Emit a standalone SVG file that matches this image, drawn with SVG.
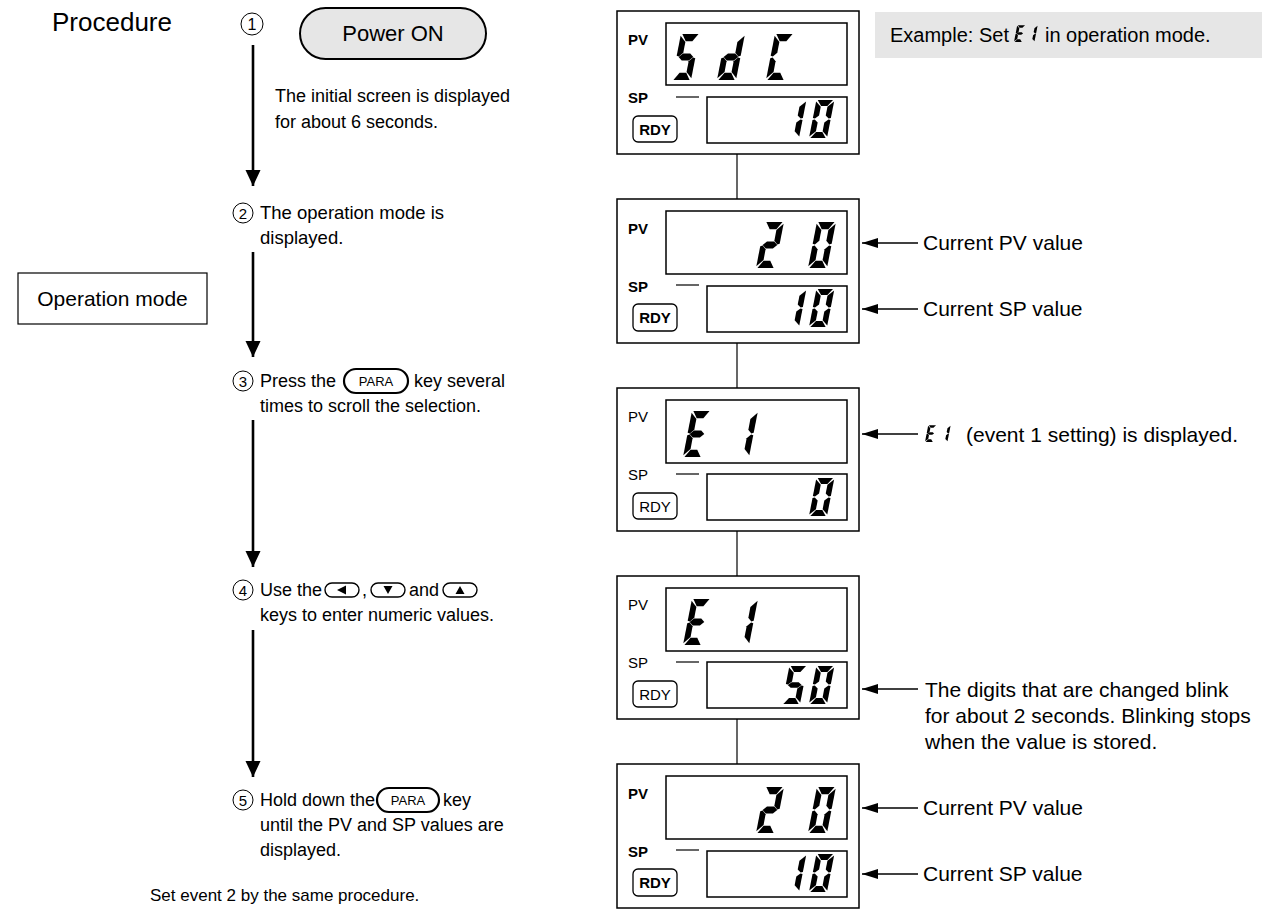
<svg xmlns="http://www.w3.org/2000/svg" xmlns:xlink="http://www.w3.org/1999/xlink" width="1270" height="916" viewBox="0 0 1270 916">
<style>
.t{font-family:"Liberation Sans",Arial,Helvetica,sans-serif;font-size:18px;fill:#000}
.r{font-family:"Liberation Sans",Arial,Helvetica,sans-serif;font-size:21px;fill:#000}
.lb{font-family:"Liberation Sans",Arial,Helvetica,sans-serif;font-size:15px;font-weight:bold;fill:#000}
.ln{font-family:"Liberation Sans",Arial,Helvetica,sans-serif;font-size:15px;fill:#000}
.num{font-family:"Liberation Sans",Arial,Helvetica,sans-serif;font-size:15px;fill:#000;text-anchor:middle}
.frame{fill:#fff;stroke:#000;stroke-width:1.5}
.win{fill:#fff;stroke:#000;stroke-width:1.5}
.rdy{fill:#fff;stroke:#000;stroke-width:1.3}
.conn{stroke:#000;stroke-width:1.2;fill:none}
.flow{stroke:#000;stroke-width:2.6;fill:none}
.ptr{stroke:#000;stroke-width:1.5;fill:none}
.circ{fill:#fff;stroke:#000;stroke-width:1}
.seg{fill:#000}
.key{fill:#fff;stroke:#000;stroke-width:1.4}
.para{fill:#fff;stroke:#000;stroke-width:2.2}
</style>
<defs>
<marker id="down" markerUnits="userSpaceOnUse" markerWidth="16" markerHeight="18" refX="17" refY="8" orient="auto" viewBox="0 0 17 16">
<path d="M0,0 L17,8 L0,16 Z" fill="#000"/>
</marker>
<marker id="left" markerUnits="userSpaceOnUse" markerWidth="16" markerHeight="10" refX="16" refY="5" orient="auto" viewBox="0 0 16 10">
<path d="M0,0 L16,5 L0,10 Z" fill="#000"/>
</marker>
<polygon id="sa" class="seg" points="1.5,0 18.5,0 13.5,6.3 6.5,6.3"/>
<polygon id="sb" class="seg" points="20,1.5 20,19 17.6,19.6 13.7,16.2 13.7,7"/>
<polygon id="sc" class="seg" points="20,21 20,38.5 13.7,33 13.7,23.8 17.6,20.4"/>
<polygon id="sd" class="seg" points="6.5,33.7 13.5,33.7 18.5,40 1.5,40"/>
<polygon id="se" class="seg" points="0,21 2.4,20.4 6.3,23.8 6.3,33 0,38.5"/>
<polygon id="sf" class="seg" points="0,1.5 6.3,7 6.3,16.2 2.4,19.6 0,19"/>
<polygon id="sg" class="seg" points="2.3,20 6.2,17 13.8,17 17.7,20 13.8,23 6.2,23"/>
<g id="g0"><use href="#sa"/><use href="#sb"/><use href="#sc"/><use href="#sd"/><use href="#se"/><use href="#sf"/></g>
<g id="g1"><use href="#sb"/><use href="#sc"/></g>
<g id="g2"><use href="#sa"/><use href="#sb"/><use href="#sg"/><use href="#se"/><use href="#sd"/></g>
<g id="g5"><use href="#sa"/><use href="#sf"/><use href="#sg"/><use href="#sc"/><use href="#sd"/></g>
<g id="gd"><use href="#sb"/><use href="#sc"/><use href="#sd"/><use href="#se"/><use href="#sg"/></g>
<g id="gC"><use href="#sa"/><use href="#sf"/><use href="#se"/><use href="#sd"/></g>
<g id="gE"><use href="#sa"/><use href="#sf"/><use href="#sg"/><use href="#se"/><use href="#sd"/></g>
</defs>

<rect width="1270" height="916" fill="#fff"/>

<g id="connectors">
<line class="flow" x1="253" y1="45" x2="253" y2="186" marker-end="url(#down)"/>
<line class="flow" x1="253" y1="252" x2="253" y2="357" marker-end="url(#down)"/>
<line class="flow" x1="253" y1="420" x2="253" y2="567" marker-end="url(#down)"/>
<line class="flow" x1="253" y1="630" x2="253" y2="777" marker-end="url(#down)"/>
<line class="conn" x1="737" y1="154" x2="737" y2="199"/>
<line class="conn" x1="737" y1="343" x2="737" y2="388"/>
<line class="conn" x1="737" y1="531" x2="737" y2="576"/>
<line class="conn" x1="737" y1="719" x2="737" y2="764"/>
<line class="ptr" x1="918" y1="243" x2="862" y2="243" marker-end="url(#left)"/>
<line class="ptr" x1="918" y1="309" x2="862" y2="309" marker-end="url(#left)"/>
<line class="ptr" x1="918" y1="434" x2="862" y2="434" marker-end="url(#left)"/>
<line class="ptr" x1="918" y1="689" x2="862" y2="689" marker-end="url(#left)"/>
<line class="ptr" x1="918" y1="808" x2="862" y2="808" marker-end="url(#left)"/>
<line class="ptr" x1="918" y1="874" x2="862" y2="874" marker-end="url(#left)"/>
</g>

<g id="title"><text class="t" x="52" y="31" style="font-size:26px">Procedure</text></g>

<g id="step1">
<circle class="circ" cx="252" cy="24" r="11"/>
<text class="num" x="252" y="29.5" style="font-size:16px">1</text>
<rect x="300" y="8" width="186" height="51" rx="25.5" fill="#e6e6e6" stroke="#000" stroke-width="2"/>
<text class="t" x="393" y="41" text-anchor="middle" style="font-size:22px">Power ON</text>
<text class="t" x="275" y="102">The initial screen is displayed</text>
<text class="t" x="275" y="128">for about 6 seconds.</text>
</g>

<g id="step2">
<circle class="circ" cx="243" cy="213" r="10"/>
<text class="num" x="243" y="218.5">2</text>
<text class="t" x="260" y="219" style="font-size:18.5px">The operation mode is</text>
<text class="t" x="260" y="244" style="font-size:18.5px">displayed.</text>
</g>

<g id="opmode">
<rect x="18" y="273" width="189" height="51" fill="#fff" stroke="#000" stroke-width="1.2"/>
<text class="t" x="112.5" y="306" text-anchor="middle" style="font-size:21px">Operation mode</text>
</g>

<g id="step3">
<circle class="circ" cx="243" cy="381" r="10"/>
<text class="num" x="243" y="386.5">3</text>
<text class="t" x="260" y="387">Press the</text>
<rect class="para" x="344" y="369" width="64" height="24" rx="12"/>
<text class="ln" x="376" y="386" text-anchor="middle" style="font-size:13px">PARA</text>
<text class="t" x="414" y="387">key several</text>
<text class="t" x="260" y="412">times to scroll the selection.</text>
</g>

<g id="step4">
<circle class="circ" cx="243" cy="590" r="10"/>
<text class="num" x="243" y="595.5">4</text>
<text class="t" x="260" y="596">Use the</text>
<rect class="key" x="325" y="583" width="34" height="14" rx="7"/>
<path d="M337,590 L346,585.5 L346,594.5 Z" fill="#000"/>
<text class="t" x="362" y="596">,</text>
<rect class="key" x="371" y="583" width="34" height="14" rx="7"/>
<path d="M383.5,586 L392.5,586 L388,594 Z" fill="#000"/>
<text class="t" x="409" y="596">and</text>
<rect class="key" x="443" y="583" width="34" height="14" rx="7"/>
<path d="M455.5,594 L464.5,594 L460,586 Z" fill="#000"/>
<text class="t" x="260" y="621">keys to enter numeric values.</text>
</g>

<g id="step5">
<circle class="circ" cx="243" cy="800" r="10"/>
<text class="num" x="243" y="805.5">5</text>
<text class="t" x="260" y="806">Hold down the</text>
<rect class="para" x="377" y="788" width="62" height="24" rx="12"/>
<text class="ln" x="408" y="805" text-anchor="middle" style="font-size:13px">PARA</text>
<text class="t" x="443" y="806">key</text>
<text class="t" x="260" y="831">until the PV and SP values are</text>
<text class="t" x="260" y="856">displayed.</text>
</g>

<g id="footer"><text class="t" x="150" y="901" style="font-size:17px">Set event 2 by the same procedure.</text></g>

<g id="example">
<rect x="875" y="12" width="387" height="46" fill="#e6e6e6"/>
<text class="t" x="890" y="42" style="font-size:20px">Example: Set</text>
<use href="#gE" transform="translate(1014,42) skewX(-11) scale(0.42) translate(0,-40)"/>
<use href="#g1" transform="translate(1026,42) skewX(-11) scale(0.42) translate(0,-40)"/>
<text class="t" x="1045" y="42" style="font-size:20px">in operation mode.</text>
</g>

<g id="display1">
<rect class="frame" x="617" y="11" width="242" height="143"/>
<rect class="win" x="666" y="23" width="181" height="62"/>
<rect class="win" x="707" y="97" width="140" height="46"/>
<text class="lb" x="628" y="45">PV</text>
<text class="lb" x="628" y="103">SP</text>
<line x1="676" y1="97" x2="699" y2="97" stroke="#000" stroke-width="1.2"/>
<rect class="rdy" x="633" y="116" width="44" height="26" rx="5"/>
<text class="lb" x="655" y="135" text-anchor="middle">RDY</text>
<g><title>SdC</title>
<use href="#g5" transform="translate(672,80) skewX(-11) scale(0.95,1.15) translate(0,-40)"/>
<use href="#gd" transform="translate(717,80) skewX(-11) scale(0.95,1.15) translate(0,-40)"/>
<use href="#gC" transform="translate(766,80) skewX(-11) scale(0.95,1.15) translate(0,-40)"/>
</g>
<g><title>10</title>
<use href="#g1" transform="translate(781,138) skewX(-11) scale(0.9,0.95) translate(0,-40)"/>
<use href="#g0" transform="translate(809,138) skewX(-11) scale(0.9,0.95) translate(0,-40)"/>
</g>
</g>

<g id="display2">
<rect class="frame" x="617" y="199" width="242" height="144"/>
<rect class="win" x="666" y="211" width="181" height="63"/>
<rect class="win" x="707" y="286" width="140" height="46"/>
<text class="lb" x="628" y="234">PV</text>
<text class="lb" x="628" y="292">SP</text>
<line x1="676" y1="285" x2="699" y2="285" stroke="#000" stroke-width="1.2"/>
<rect class="rdy" x="633" y="304" width="44" height="27" rx="5"/>
<text class="lb" x="655" y="323" text-anchor="middle">RDY</text>
<g><title>20</title>
<use href="#g2" transform="translate(756,268) skewX(-11) scale(0.95,1.15) translate(0,-40)"/>
<use href="#g0" transform="translate(808,268) skewX(-11) scale(0.95,1.15) translate(0,-40)"/>
</g>
<g><title>10</title>
<use href="#g1" transform="translate(781,327) skewX(-11) scale(0.9,0.95) translate(0,-40)"/>
<use href="#g0" transform="translate(809,327) skewX(-11) scale(0.9,0.95) translate(0,-40)"/>
</g>
</g>

<g id="display3">
<rect class="frame" x="617" y="388" width="242" height="143"/>
<rect class="win" x="666" y="400" width="181" height="63"/>
<rect class="win" x="707" y="474" width="140" height="46"/>
<text class="ln" x="628" y="422">PV</text>
<text class="ln" x="628" y="480">SP</text>
<line x1="676" y1="474" x2="699" y2="474" stroke="#000" stroke-width="1.2"/>
<rect class="rdy" x="633" y="493" width="44" height="26" rx="5"/>
<text class="ln" x="655" y="512" text-anchor="middle">RDY</text>
<g><title>E1</title>
<use href="#gE" transform="translate(683,457) skewX(-11) scale(0.95,1.15) translate(0,-40)"/>
<use href="#g1" transform="translate(730,457) skewX(-11) scale(0.95,1.15) translate(0,-40)"/>
</g>
<g><title>0</title>
<use href="#g0" transform="translate(809,516) skewX(-11) scale(0.9,0.95) translate(0,-40)"/>
</g>
</g>

<g id="display4">
<rect class="frame" x="617" y="576" width="242" height="143"/>
<rect class="win" x="666" y="588" width="181" height="63"/>
<rect class="win" x="707" y="662" width="140" height="46"/>
<text class="ln" x="628" y="610">PV</text>
<text class="ln" x="628" y="668">SP</text>
<line x1="676" y1="662" x2="699" y2="662" stroke="#000" stroke-width="1.2"/>
<rect class="rdy" x="633" y="681" width="44" height="26" rx="5"/>
<text class="ln" x="655" y="700" text-anchor="middle">RDY</text>
<g><title>E1</title>
<use href="#gE" transform="translate(683,645) skewX(-11) scale(0.95,1.15) translate(0,-40)"/>
<use href="#g1" transform="translate(730,645) skewX(-11) scale(0.95,1.15) translate(0,-40)"/>
</g>
<g><title>50</title>
<use href="#g5" transform="translate(782,704) skewX(-11) scale(0.9,0.95) translate(0,-40)"/>
<use href="#g0" transform="translate(809,704) skewX(-11) scale(0.9,0.95) translate(0,-40)"/>
</g>
</g>

<g id="display5">
<rect class="frame" x="617" y="764" width="242" height="144"/>
<rect class="win" x="666" y="776" width="181" height="63"/>
<rect class="win" x="707" y="851" width="140" height="46"/>
<text class="lb" x="628" y="799">PV</text>
<text class="lb" x="628" y="857">SP</text>
<line x1="676" y1="850" x2="699" y2="850" stroke="#000" stroke-width="1.2"/>
<rect class="rdy" x="633" y="869" width="44" height="27" rx="5"/>
<text class="lb" x="655" y="888" text-anchor="middle">RDY</text>
<g><title>20</title>
<use href="#g2" transform="translate(756,833) skewX(-11) scale(0.95,1.15) translate(0,-40)"/>
<use href="#g0" transform="translate(808,833) skewX(-11) scale(0.95,1.15) translate(0,-40)"/>
</g>
<g><title>10</title>
<use href="#g1" transform="translate(781,892) skewX(-11) scale(0.9,0.95) translate(0,-40)"/>
<use href="#g0" transform="translate(809,892) skewX(-11) scale(0.9,0.95) translate(0,-40)"/>
</g>
</g>

<g id="note-pv1"><text class="r" x="923" y="250">Current PV value</text></g>
<g id="note-sp1"><text class="r" x="923" y="316">Current SP value</text></g>
<g id="note-e1">
<use href="#gE" transform="translate(925,442) skewX(-11) scale(0.42) translate(0,-40)"/>
<use href="#g1" transform="translate(939,442) skewX(-11) scale(0.42) translate(0,-40)"/>
<text class="r" x="966" y="442">(event 1 setting) is displayed.</text>
</g>
<g id="note-blink">
<text class="r" x="925" y="697">The digits that are changed blink</text>
<text class="r" x="925" y="723">for about 2 seconds. Blinking stops</text>
<text class="r" x="925" y="749">when the value is stored.</text>
</g>
<g id="note-pv2"><text class="r" x="923" y="815">Current PV value</text></g>
<g id="note-sp2"><text class="r" x="923" y="881">Current SP value</text></g>
</svg>
